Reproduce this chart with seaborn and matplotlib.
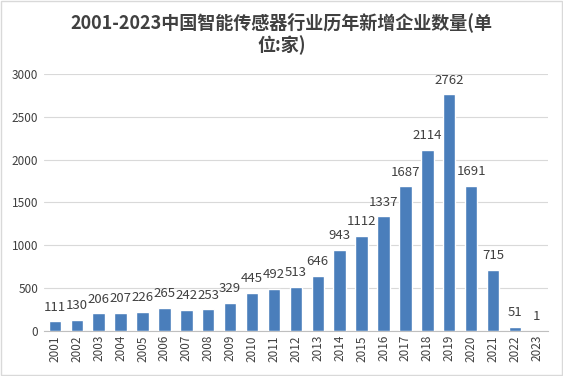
import pandas as pd
import matplotlib
matplotlib.use("Agg")
import matplotlib.pyplot as plt
import seaborn as sns
import numpy as np

# data
years = [str(y) for y in range(2001, 2024)]
new_firms = [111, 130, 206, 207, 226, 265, 242, 253, 329, 445, 492, 513,
             646, 943, 1112, 1337, 1687, 2114, 2762, 1691, 715, 51, 1]
y_ticks = [0, 500, 1000, 1500, 2000, 2500, 3000]

df = pd.DataFrame({"year": years, "count": new_firms})

sns.set_style("white")
plt.rcParams["font.family"] = ["Noto Sans CJK SC", "DejaVu Sans"]

fig = plt.figure(figsize=(5.63, 3.76), dpi=100, facecolor="white")
ax = fig.add_axes([0.078, 0.12, 0.895, 0.683])

sns.barplot(data=df, x="year", y="count", color="#4a7ebb", width=0.57,
            saturation=1, ax=ax, zorder=3)

ax.set_ylim(0, 3000)
ax.set_yticks(y_ticks)
ax.set_yticklabels([str(t) for t in y_ticks], fontsize=8.5, color="#404040")
ax.yaxis.grid(True, color="#d9d9d9", linewidth=0.8, zorder=0)
ax.tick_params(axis="y", length=0, pad=4)

ax.set_xlim(-0.5, len(years) - 0.5)
ax.set_xticks(range(len(years)))
ax.set_xticklabels(years, rotation=90, fontsize=8.5, color="#404040")
ax.tick_params(axis="x", length=0, pad=3)
ax.set_xticks(np.arange(-0.5, len(years), 1), minor=True)
ax.tick_params(axis="x", which="minor", length=4, color="#bfbfbf")

for side in ["top", "right", "left"]:
    ax.spines[side].set_visible(False)
ax.spines["bottom"].set_color("#bfbfbf")

ax.set_xlabel("")
ax.set_ylabel("")

# value labels above bars
for bar, v in zip(ax.patches, new_firms):
    ax.text(bar.get_x() + bar.get_width() / 2, bar.get_height() + 90, f"{v}",
            ha="center", va="bottom", fontsize=9.5, color="#404040", zorder=4)

fig.text(0.5, 0.968, "2001-2023中国智能传感器行业历年新增企业数量(单\n位:家)",
         ha="center", va="top", fontsize=13, fontweight="bold", color="#404040",
         linespacing=1.2)

# light border around the chart
fig.patches.append(plt.Rectangle((0.002, 0.003), 0.996, 0.994, transform=fig.transFigure,
                                 fill=False, edgecolor="#d9d9d9", linewidth=1))

plt.savefig("out.png", dpi=100, facecolor="white")
plt.close()
